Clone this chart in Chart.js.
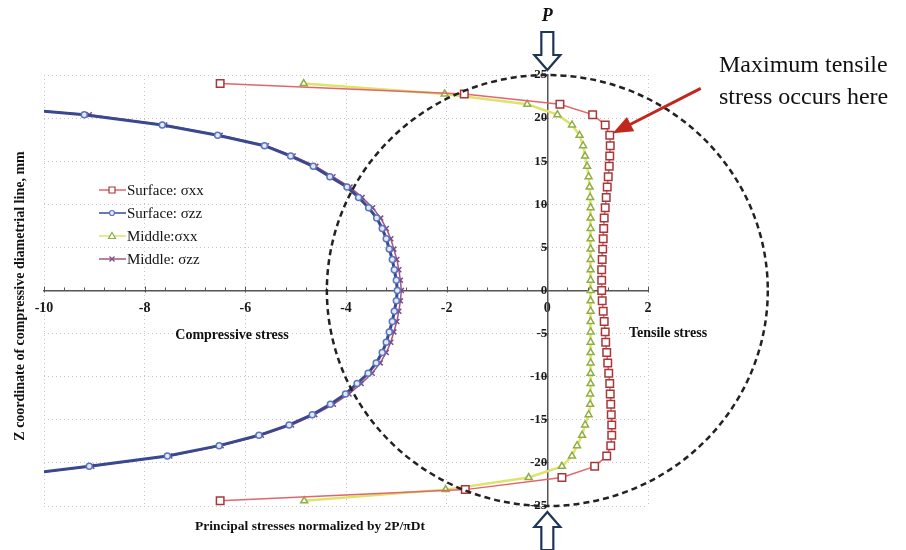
<!DOCTYPE html>
<html>
<head>
<meta charset="utf-8">
<script src="https://cdn.jsdelivr.net/npm/chart.js@4.4.1/dist/chart.umd.min.js"></script>
<style>
  html, body { margin: 0; padding: 0; background: #fff; }
</style>
</head>
<body>
<canvas id="chart" width="906" height="550"></canvas>
<script>
// z coordinate along the compressive diameter, mm
const zCoords = [24.0, 22.8, 21.6, 20.4, 19.2, 18.0, 16.8, 15.6, 14.4, 13.2, 12.0, 10.8, 9.6, 8.4, 7.2, 6.0, 4.8, 3.6, 2.4, 1.2, 0,
  -1.2, -2.4, -3.6, -4.8, -6.0, -7.2, -8.4, -9.6, -10.8, -12.0, -13.2, -14.4, -15.6, -16.8, -18.0, -19.2, -20.4, -21.7, -23.1, -24.4];

// normalized stress values
const surfaceXX = [-6.5, -1.65, 0.25, 0.9, 1.15, 1.24, 1.25, 1.24, 1.23, 1.21, 1.19, 1.17, 1.15, 1.13, 1.12, 1.11, 1.10, 1.09, 1.08, 1.08, 1.08,
  1.09, 1.11, 1.13, 1.15, 1.16, 1.18, 1.2, 1.22, 1.24, 1.25, 1.26, 1.27, 1.28, 1.28, 1.26, 1.18, 0.94, 0.29, -1.63, -6.5];
const surfaceZZ = [null, null, -11.7, -9.2, -7.65, -6.55, -5.62, -5.1, -4.65, -4.32, -3.98, -3.75, -3.55, -3.39, -3.28, -3.2, -3.14, -3.08, -3.04, -3.0, -2.98,
  -3.0, -3.04, -3.08, -3.14, -3.2, -3.28, -3.4, -3.56, -3.78, -4.01, -4.31, -4.67, -5.13, -5.73, -6.52, -7.55, -9.1, -11.0, null, null];
const middleXX = [-4.84, -2.04, -0.4, 0.2, 0.49, 0.64, 0.71, 0.75, 0.79, 0.82, 0.84, 0.85, 0.86, 0.86, 0.86, 0.86, 0.86, 0.86, 0.86, 0.86, 0.86,
  0.86, 0.86, 0.86, 0.86, 0.86, 0.86, 0.86, 0.86, 0.86, 0.85, 0.85, 0.82, 0.75, 0.69, 0.59, 0.49, 0.29, -0.37, -2.02, -4.83];
const middleZZ = [null, null, -11.6, -9.1, -7.6, -6.5, -5.58, -5.05, -4.6, -4.26, -3.92, -3.68, -3.47, -3.31, -3.2, -3.11, -3.05, -2.99, -2.95, -2.92, -2.9,
  -2.92, -2.95, -2.99, -3.05, -3.11, -3.2, -3.32, -3.48, -3.7, -3.94, -4.25, -4.62, -5.08, -5.68, -6.48, -7.5, -9.05, -10.9, null, null];

const seriesNames = ["Surface: σxx", "Surface: σzz", "Middle:σxx", "Middle: σzz"];
const xTicks = [-10, -8, -6, -4, -2, 0, 2];
const yTicks = [-25, -20, -15, -10, -5, 0, 5, 10, 15, 20, 25];

const serif = "'Liberation Serif', 'Times New Roman', serif";

const toPoints = (xs) =>
  xs.map((x, i) => ({ x: x, y: zCoords[i] })).filter((p) => p.x !== null);

const styles = [
  { line: "#e0666c", point: "#a8373a", fill: "#fff", shape: "rect", r: 5.3, w: 1.5 },
  { line: "#3a4890", point: "#5a74c0", fill: "#e4eaf8", shape: "circle", r: 3, w: 3 },
  { line: "#dfe36a", point: "#8fae45", fill: "#fff", shape: "triangle", r: 4, w: 2.5 },
  { line: "#a8557f", point: "#7a4a8a", fill: "#fff", shape: "crossRot", r: 3.5, w: 1.5 },
];
const allSeries = [surfaceXX, surfaceZZ, middleXX, middleZZ];

const datasets = allSeries.map((s, i) => ({
  label: seriesNames[i],
  data: toPoints(s),
  showLine: true,
  borderColor: styles[i].line,
  borderWidth: styles[i].w,
  pointStyle: styles[i].shape,
  pointRadius: styles[i].r,
  pointBorderColor: styles[i].point,
  pointBackgroundColor: styles[i].fill,
  pointBorderWidth: 1.5,
  tension: 0,
}));

const decorations = {
  id: "decorations",
  afterDatasetsDraw(chart) {
    const { ctx } = chart;
    const xs = chart.scales.x;
    const ys = chart.scales.y;
    const cx = xs.getPixelForValue(0);
    const cy = ys.getPixelForValue(0);
    const top = ys.getPixelForValue(25);
    const bottom = ys.getPixelForValue(-25);

    // minor / major ticks on the x axis
    ctx.save();
    ctx.strokeStyle = "#555";
    ctx.lineWidth = 1;
    for (let v = -10; v <= 2.001; v += 0.4) {
      const px = Math.round(xs.getPixelForValue(v)) + 0.5;
      const major = Math.abs(v / 2 - Math.round(v / 2)) < 0.01;
      ctx.beginPath();
      ctx.moveTo(px, cy - (major ? 4 : 3));
      ctx.lineTo(px, cy + (major ? 2 : 0));
      ctx.stroke();
    }
    ctx.restore();

    // dashed disc outline
    ctx.save();
    ctx.setLineDash([6, 4]);
    ctx.lineWidth = 2.5;
    ctx.strokeStyle = "#222";
    ctx.beginPath();
    ctx.ellipse(cx, cy, xs.getPixelForValue(4.38) - cx, cy - top, 0, 0, Math.PI * 2);
    ctx.stroke();
    ctx.restore();

    // load arrows
    const hollowArrow = (tipY, dir) => {
      const headLen = 15, shaftLen = 23, hw = 13, sw = 6;
      const b = tipY - dir * headLen;
      const e = b - dir * shaftLen;
      ctx.beginPath();
      ctx.moveTo(cx, tipY);
      ctx.lineTo(cx - hw, b);
      ctx.lineTo(cx - sw, b);
      ctx.lineTo(cx - sw, e);
      ctx.lineTo(cx + sw, e);
      ctx.lineTo(cx + sw, b);
      ctx.lineTo(cx + hw, b);
      ctx.closePath();
      ctx.fillStyle = "#fff";
      ctx.fill();
      ctx.lineWidth = 2.2;
      ctx.strokeStyle = "#1d3557";
      ctx.stroke();
    };
    ctx.save();
    hollowArrow(top - 5, 1);
    hollowArrow(bottom + 6, -1);
    ctx.fillStyle = "#111";
    ctx.font = "italic bold 18px " + serif;
    ctx.textAlign = "center";
    ctx.textBaseline = "middle";
    ctx.fillText("P", cx, 16);
    ctx.restore();

    // red arrow to the max tensile point
    const tx = xs.getPixelForValue(1.24) + 3;
    const ty = ys.getPixelForValue(18.0) - 2;
    const sx = tx + 88, sy = ty - 45;
    const ang = Math.atan2(ty - sy, tx - sx);
    ctx.save();
    ctx.strokeStyle = "#c0281e";
    ctx.fillStyle = "#c0281e";
    ctx.lineWidth = 3;
    ctx.beginPath();
    ctx.moveTo(sx, sy);
    ctx.lineTo(tx - Math.cos(ang) * 14, ty - Math.sin(ang) * 14);
    ctx.stroke();
    ctx.beginPath();
    ctx.moveTo(tx, ty);
    ctx.lineTo(tx - Math.cos(ang) * 20 - Math.sin(ang) * 8, ty - Math.sin(ang) * 20 + Math.cos(ang) * 8);
    ctx.lineTo(tx - Math.cos(ang) * 20 + Math.sin(ang) * 8, ty - Math.sin(ang) * 20 - Math.cos(ang) * 8);
    ctx.closePath();
    ctx.fill();
    ctx.restore();

    // texts
    ctx.save();
    ctx.fillStyle = "#111";
    ctx.textBaseline = "alphabetic";
    ctx.font = "24px " + serif;
    ctx.textAlign = "left";
    ctx.fillText("Maximum tensile", 719, 72);
    ctx.fillText("stress occurs here", 719, 104);

    ctx.font = "bold 14px " + serif;
    ctx.textAlign = "center";
    ctx.textBaseline = "middle";
    ctx.fillText("Compressive stress", 232, 335);
    ctx.fillText("Tensile stress", 668, 333);
    ctx.font = "bold 13.5px " + serif;
    ctx.fillText("Principal stresses normalized by 2P/πDt", 310, 527);
    ctx.translate(20, 296);
    ctx.rotate(-Math.PI / 2);
    ctx.font = "bold 14px " + serif;
    ctx.fillText("Z coordinate of compressive diametrial line, mm", 0, 0);
    ctx.restore();

    // legend
    ctx.save();
    const rows = [190, 213, 236, 259];
    rows.forEach((ry, i) => {
      const st = styles[i];
      ctx.strokeStyle = st.line;
      ctx.lineWidth = 1.5;
      ctx.beginPath();
      ctx.moveTo(99, ry);
      ctx.lineTo(126, ry);
      ctx.stroke();
      ctx.strokeStyle = st.point;
      ctx.fillStyle = st.fill;
      ctx.lineWidth = 1.2;
      const mx = 112;
      ctx.beginPath();
      if (st.shape === "rect") {
        ctx.rect(mx - 3, ry - 3, 6, 6);
        ctx.fill(); ctx.stroke();
      } else if (st.shape === "circle") {
        ctx.arc(mx, ry, 2.5, 0, Math.PI * 2);
        ctx.fill(); ctx.stroke();
      } else if (st.shape === "triangle") {
        ctx.moveTo(mx, ry - 3.5);
        ctx.lineTo(mx + 3.5, ry + 2.5);
        ctx.lineTo(mx - 3.5, ry + 2.5);
        ctx.closePath();
        ctx.fill(); ctx.stroke();
      } else {
        ctx.moveTo(mx - 2.5, ry - 2.5); ctx.lineTo(mx + 2.5, ry + 2.5);
        ctx.moveTo(mx + 2.5, ry - 2.5); ctx.lineTo(mx - 2.5, ry + 2.5);
        ctx.stroke();
      }
      ctx.fillStyle = "#111";
      ctx.font = "15px " + serif;
      ctx.textAlign = "left";
      ctx.textBaseline = "middle";
      ctx.fillText(seriesNames[i], 127, ry + 1);
    });
    ctx.restore();
  },
};

const ctx = document.getElementById("chart");
const chart = new Chart(ctx, {
  type: "scatter",
  data: { datasets: datasets },
  options: {
    responsive: false,
    animation: false,
    devicePixelRatio: 1,
    layout: { padding: { left: 44, right: 258, top: 75, bottom: 44 } },
    plugins: { legend: { display: false }, tooltip: { enabled: false } },
    scales: {
      x: {
        type: "linear",
        min: -10,
        max: 2,
        position: { y: 0 },
        afterBuildTicks: (scale) => { scale.ticks = xTicks.map((v) => ({ value: v })); },
        grid: { color: "#c8c8c8", lineWidth: 1, drawTicks: false },
        border: { display: true, color: "#555", width: 1.5, dash: [1, 3] },
        ticks: {
          padding: 9,
          color: "#1a1a1a",
          font: { family: serif, weight: "bold", size: 14 },
        },
      },
      y: {
        type: "linear",
        min: -25,
        max: 25,
        position: { x: 0 },
        afterBuildTicks: (scale) => { scale.ticks = yTicks.map((v) => ({ value: v })); },
        grid: { color: "#c8c8c8", lineWidth: 1, drawTicks: true, tickLength: 5, tickColor: "#444" },
        border: { display: true, color: "#555", width: 1.5, dash: [1, 3] },
        ticks: {
          padding: 8,
          color: "#1a1a1a",
          font: { family: serif, weight: "bold", size: 13 },
        },
      },
    },
  },
  plugins: [decorations],
});
</script>
</body>
</html>
